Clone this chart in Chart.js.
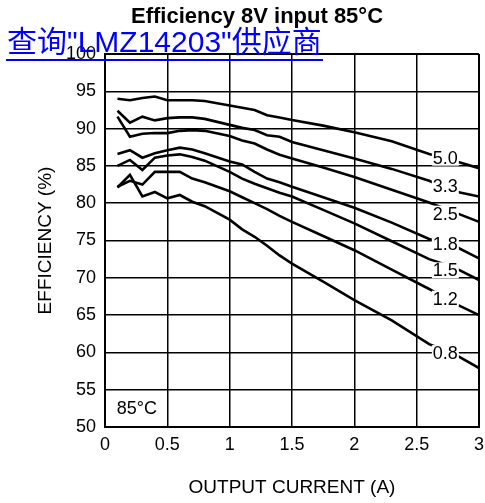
<!DOCTYPE html>
<html>
<head>
<meta charset="utf-8">
<script src="https://cdn.jsdelivr.net/npm/chart.js@4/dist/chart.umd.min.js"></script>
<style>
  body { margin: 0; background: #fff; }
  #wrap { position: relative; width: 485px; height: 503px; }
  #title { position: absolute; left: 0; top: 4px; width: 514px; text-align: center;
    font: bold 22px/24px "Liberation Sans", Arial, sans-serif; color: #000; }
  #link { position: absolute; left: 6px; top: 25px; display: inline-block;
    font: 30px/34px "Liberation Sans", Arial, "Noto Sans CJK SC", sans-serif;
    color: #0000ff; border-bottom: 2px solid #0000ff; white-space: nowrap; padding: 0 1px; }
</style>
</head>
<body>
<div id="wrap">
  <canvas id="chart" width="485" height="503"></canvas>
  <div id="title">Efficiency 8V input 85°C</div>
  <div id="link">查询"LMZ14203"供应商</div>
</div>
<script>
const FONT = '"Liberation Sans", Arial, sans-serif';

// output current (A)
const current = [0.1, 0.2, 0.3, 0.4, 0.5, 0.6, 0.7, 0.8, 1.0, 1.1, 1.2, 1.3, 1.4, 1.5, 1.75, 2.0, 2.3, 2.6, 2.8, 3.0];

// efficiency (%) per output voltage
const eff50 = [94.0, 93.8, 94.1, 94.3, 93.8, 93.8, 93.8, 93.7, 93.1, 92.8, 92.5, 91.8, 91.5, 91.15, 90.4, 89.5, 88.3, 86.6, 85.7, 84.7];
const eff33 = [92.4, 90.8, 91.6, 91.1, 91.4, 91.5, 91.5, 91.3, 90.5, 90.1, 89.8, 89.1, 88.9, 88.2, 87.1, 86.0, 84.6, 83.0, 81.6, 80.9];
const eff25 = [91.6, 88.9, 89.3, 89.4, 89.4, 89.7, 89.8, 89.7, 89.0, 88.4, 88.0, 87.2, 86.5, 86.0, 84.8, 83.5, 81.8, 80.1, 78.8, 77.5];
const eff18 = [86.6, 87.1, 86.1, 86.7, 87.1, 87.45, 87.2, 86.7, 85.6, 85.2, 84.2, 83.3, 82.8, 82.2, 80.8, 79.4, 77.4, 75.2, 74.3, 72.6];
const eff15 = [85.0, 85.8, 84.45, 86.1, 86.4, 86.55, 86.2, 85.7, 84.2, 83.3, 82.6, 82.0, 81.4, 80.9, 79.1, 77.3, 74.9, 72.5, 71.4, 69.7];
const eff12 = [82.2, 83.0, 82.5, 84.2, 84.2, 84.2, 83.3, 82.8, 81.6, 80.8, 80.0, 79.2, 78.3, 77.5, 75.6, 73.7, 71.1, 68.5, 66.6, 65.0];
const eff08 = [82.1, 83.8, 80.9, 81.5, 80.65, 81.1, 80.2, 79.6, 77.8, 76.5, 75.5, 74.3, 73.0, 71.9, 69.5, 67.0, 64.3, 61.1, 59.8, 57.9];

const seriesNames = ['5.0', '3.3', '2.5', '1.8', '1.5', '1.2', '0.8'];
const seriesValues = [eff50, eff33, eff25, eff18, eff15, eff12, eff08];

// where the voltage tag sits on each curve (current, efficiency)
const tagCurrent = 2.73;
const tagEff = [86.1, 82.3, 78.6, 74.5, 71.0, 67.2, 59.9];

const datasets = seriesNames.map((name, i) => ({
    label: name,
    data: current.map((c, j) => ({ x: c, y: seriesValues[i][j] })),
    borderColor: '#000',
    borderWidth: 2.6,
    pointRadius: 0,
    tension: 0,
    fill: false
}));

const tagPlugin = {
    id: 'tags',
    afterDatasetsDraw(chart) {
        const { ctx, scales: { x, y } } = chart;
        ctx.save();
        ctx.font = '18px ' + FONT;
        ctx.textAlign = 'center';
        ctx.textBaseline = 'middle';
        seriesNames.forEach((name, i) => {
            const px = x.getPixelForValue(tagCurrent);
            const py = y.getPixelForValue(tagEff[i]);
            const w = ctx.measureText(name).width + 2;
            ctx.fillStyle = '#fff';
            ctx.fillRect(px - w / 2, py - 8, w, 16);
            ctx.fillStyle = '#000';
            ctx.fillText(name, px, py + 1);
        });
        // temperature note in the corner
        ctx.textAlign = 'left';
        ctx.fillText('85°C', x.getPixelForValue(0.095), y.getPixelForValue(52.4));
        ctx.restore();
    }
};

const lastWidth = (c, n) => (c.index === 0 || c.index === n) ? 2 : 1.5;

new Chart(document.getElementById('chart'), {
    type: 'line',
    data: { datasets },
    plugins: [tagPlugin],
    options: {
        responsive: false,
        animation: false,
        layout: { padding: { top: 54, right: 6, left: 0, bottom: 0 } },
        plugins: { legend: { display: false }, tooltip: { enabled: false } },
        scales: {
            x: {
                type: 'linear', min: 0, max: 3,
                ticks: { stepSize: 0.5, color: '#000', font: { size: 18, family: FONT }, padding: 7, maxRotation: 0,
                    callback: v => String(v) },
                grid: { color: '#000', lineWidth: c => lastWidth(c, 6), drawTicks: false },
                border: { color: '#000', width: 2 },
                title: { display: true, text: 'OUTPUT CURRENT (A)', color: '#000',
                    font: { size: 19, family: FONT }, padding: { top: 0, bottom: 4 } },
                afterFit: s => { s.height = 76; s.paddingRight = 0; s.paddingLeft = 0; }
            },
            y: {
                min: 50, max: 100,
                ticks: { stepSize: 5, color: '#000', font: { size: 18, family: FONT }, padding: 9 },
                grid: { color: '#000', lineWidth: c => lastWidth(c, 10), drawTicks: false },
                border: { color: '#000', width: 2 },
                title: { display: true, text: 'EFFICIENCY (%)', color: '#000',
                    font: { size: 19, family: FONT }, padding: { top: 34, bottom: 0 } },
                afterFit: s => { s.width = 105; s.paddingTop = 0; s.paddingBottom = 0; }
            }
        }
    }
});
</script>
</body>
</html>
